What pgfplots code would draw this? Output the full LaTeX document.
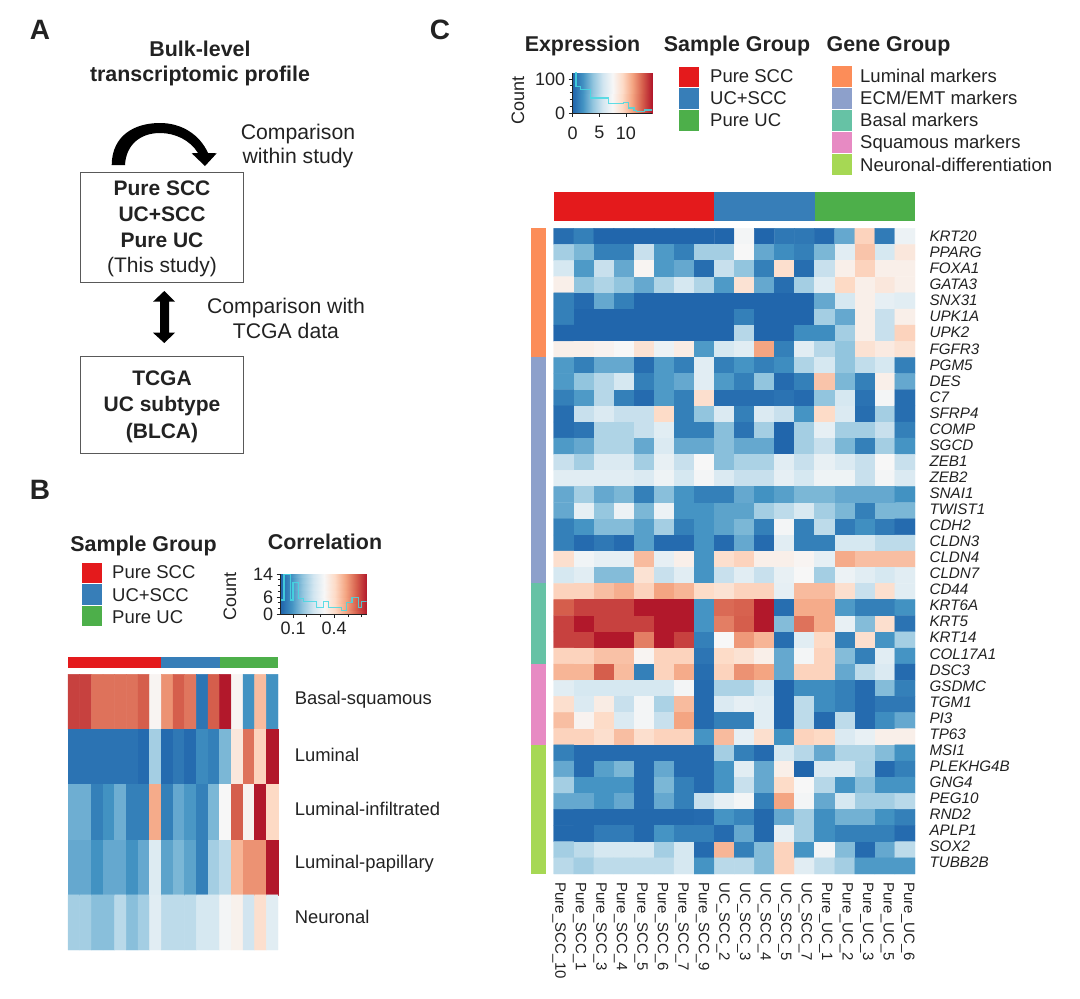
\documentclass[border=0pt]{standalone}
\usepackage{pgfplots}
\pgfplotsset{compat=1.18}
\usepackage{fontspec}
\setmainfont{Liberation Sans}
\definecolor{ink}{HTML}{222222}
\definecolor{pureSCC}{HTML}{E41A1C}
\definecolor{ucSCC}{HTML}{377EB8}
\definecolor{pureUC}{HTML}{4DAF4A}
\definecolor{luminal}{HTML}{FC8D59}
\definecolor{ecm}{HTML}{8DA0CB}
\definecolor{basal}{HTML}{66C2A5}
\definecolor{squamous}{HTML}{E78AC3}
\definecolor{neuronal}{HTML}{A6D854}
\definecolor{histline}{HTML}{45D9E3}
\newcommand{\fsz}[1]{\fontsize{#1}{#1}\selectfont}
\pgfplotsset{
  colormap={rdbu}{rgb255=(33,102,172) rgb255=(67,147,195) rgb255=(146,197,222)
    rgb255=(209,229,240) rgb255=(247,247,247) rgb255=(253,219,199)
    rgb255=(244,165,130) rgb255=(214,96,77) rgb255=(178,24,43)},
  heat/.style={scale only axis, anchor=north west, clip=false, colormap name=rdbu,
    point meta min=0, point meta max=14, y dir=reverse, axis line style={draw=none},
    tick style={draw=none}, tick align=outside, enlargelimits=false},
  key/.style={scale only axis, anchor=north west, colormap name=rdbu,
    point meta min=0, point meta max=14, axis on top,
    axis y line=left, axis x line=bottom, axis line style={-,draw=ink,line width=.6pt},
    tick style={draw=ink,line width=.6pt}, tick align=outside, major tick length=4pt, minor tick length=3pt,
    xtick pos=bottom, ytick pos=left,
    /pgf/number format/assume math mode=true,
    tick label style={font=\fsz{18},text=ink}},
}
\tikzset{
  lab/.style={anchor=base west, inner sep=0pt, font=\fsz{18.5}},
  head/.style={anchor=base, inner sep=0pt, font=\bfseries\fsz{21.4}},
  plain/.style={anchor=base, inner sep=0pt, font=\fsz{21.2}},
  boxb/.style={anchor=base, inner sep=0pt, font=\bfseries\fsz{21}},
}
\begin{document}
\begin{tikzpicture}
\path[use as bounding box] (0pt,0pt) rectangle (1080pt,-999pt);

% panel C heat map, 18 samples by 40 genes, listed gene by gene
\begin{axis}[heat, at={(553.7pt,-228.3pt)}, width=361.3pt, height=645.7pt,
    xmin=-0.5, xmax=17.5, ymin=-0.5, ymax=39.5,
    xtick={-0.236,0.787,1.809,2.832,3.855,4.878,5.9,6.923,7.946,8.968,9.991,11.014,12.037,13.059,14.082,15.105,16.127,17.15},
    ytick={0,0.995,1.989,2.984,3.978,4.973,5.967,6.962,7.956,8.951,9.945,10.94,11.934,12.929,13.923,14.918,15.912,16.907,17.901,18.896,19.89,20.885,21.879,22.874,23.868,24.863,25.857,26.852,27.846,28.841,29.835,30.83,31.824,32.819,33.813,34.808,35.802,36.797,37.791,38.786},
    yticklabel pos=right,
    xticklabels={Pure\_SCC\_10,Pure\_SCC\_1,Pure\_SCC\_3,Pure\_SCC\_4,Pure\_SCC\_5,Pure\_SCC\_6,Pure\_SCC\_7,Pure\_SCC\_9,UC\_SCC\_2,UC\_SCC\_3,UC\_SCC\_4,UC\_SCC\_5,UC\_SCC\_7,Pure\_UC\_1,Pure\_UC\_2,Pure\_UC\_3,Pure\_UC\_5,Pure\_UC\_6},
    yticklabels={KRT20,PPARG,FOXA1,GATA3,SNX31,UPK1A,UPK2,FGFR3,PGM5,DES,C7,SFRP4,COMP,SGCD,ZEB1,ZEB2,SNAI1,TWIST1,CDH2,CLDN3,CLDN4,CLDN7,CD44,KRT6A,KRT5,KRT14,COL17A1,DSC3,GSDMC,TGM1,PI3,TP63,MSI1,PLEKHG4B,GNG4,PEG10,RND2,APLP1,SOX2,TUBB2B},
    xticklabel style={rotate=-90, anchor=west, xshift=2pt, font=\fsz{15}, text=ink},
    yticklabel style={font=\fsz{15.2}\itshape, text=ink, xshift=8pt},
    major tick length=3pt]
\addplot[matrix plot*, mesh/cols=18, point meta=explicit] table[row sep=\\, header=false,
    x expr={mod(\coordindex,18)}, y expr={floor((\coordindex+0.5)/18)}, meta index=0] {
0.3\\1\\0\\0\\0\\0\\0\\0\\0\\6.8\\0\\0.7\\0.7\\0.2\\2.5\\9\\0.8\\6.5\\
4\\3\\1\\1\\5\\2\\1\\4\\4\\7\\2.5\\1.5\\1\\3\\6\\9.5\\5.5\\8\\
5.5\\2\\5\\2.5\\7.2\\2\\2.5\\0.3\\5\\3.5\\1\\8.5\\0.3\\5\\7.5\\9\\7.5\\7.5\\
7.5\\3.5\\4.3\\3.5\\2.5\\4.3\\5.5\\4.3\\2\\8.3\\2.5\\0.3\\4\\6\\8.8\\7.5\\8\\7.5\\
1\\0.2\\2.5\\1\\0\\0\\0\\0\\0\\0\\0\\0\\0\\2.5\\5.5\\7.5\\6.2\\6\\
1\\0\\0\\0\\0\\0\\0\\0\\0\\1\\0\\0\\0\\4\\2.5\\7.5\\5\\7.5\\
0\\0\\0\\0\\0\\0\\0\\0\\0\\4.5\\0\\0\\1.5\\1.5\\4\\7.5\\5\\9\\
7.5\\7.5\\7.3\\7\\8.3\\6.5\\7.7\\2\\5.5\\6\\10.5\\1\\6\\4.5\\3.5\\8.3\\7.8\\8.3\\
2\\1\\2.5\\2.5\\0.3\\2\\1\\6\\1\\1.8\\1\\1.5\\4.3\\5.5\\3.5\\4.8\\5.5\\1\\
2\\3.5\\4.5\\5.5\\1\\2\\2.5\\6\\2\\1\\3.5\\0.2\\1\\9.5\\3\\1\\7.5\\2.5\\
1\\2\\4.5\\1\\0.2\\2\\1\\8.5\\0.3\\0.3\\0.3\\0.5\\0.2\\3.5\\5.5\\0.5\\6.8\\0.3\\
0.3\\5\\5.7\\5\\5\\8.7\\1\\3.5\\5.7\\1\\5.7\\5\\1.8\\8.7\\5.7\\0.3\\4\\0.3\\
0.3\\0.6\\4.3\\4.3\\5\\6\\1\\1\\3.3\\0.5\\4\\0\\4\\6.2\\4\\4\\5\\1\\
2\\2.5\\4.3\\4.3\\2.5\\5.7\\2.5\\2.5\\3.3\\2.5\\2.5\\0\\4\\5\\3\\1\\4\\1.8\\
5\\4\\5.7\\5.7\\4\\6.3\\5\\7\\3.3\\4.2\\4.2\\6\\5\\6.3\\5.7\\5\\7\\5\\
6\\6\\6\\6\\5.7\\6.6\\5.5\\6.8\\5.7\\5\\5\\6.2\\5.5\\6.6\\6.6\\5\\6.8\\5.7\\
2.5\\4\\2.5\\3\\1\\3.3\\1.8\\1\\1\\2.5\\1.7\\2.2\\3\\3\\2.5\\2.5\\2.5\\1.7\\
2.5\\6.2\\3.6\\6.5\\3\\6.5\\1.8\\1.8\\2.3\\2.3\\4\\4.7\\5.6\\4\\3\\1\\3\\3\\
1\\1.8\\3.2\\3.2\\2.2\\4\\1\\1.8\\2.3\\3\\1\\6.8\\1\\4.7\\0.8\\1.6\\0.8\\0.2\\
1\\0.2\\0.7\\0.2\\2.2\\0.2\\0.2\\1.8\\0.2\\2.5\\0.2\\6\\1\\1\\5.5\\5.5\\4.7\\4.7\\
8.5\\6.7\\6.2\\6.2\\9.8\\6.2\\7.5\\1.8\\8.5\\9\\7.5\\7.5\\7.2\\6.2\\10.3\\9.7\\9.7\\9.7\\
5.5\\6\\3.2\\3.2\\8.3\\5\\6\\1.8\\5\\6\\5\\6.3\\7\\4\\6.5\\6\\5.5\\6\\
9\\9\\9.7\\10.2\\9\\10.5\\10\\8.7\\8.3\\9\\9\\6.2\\9.8\\9.8\\8.5\\5\\8.5\\6\\
12.3\\13\\13\\13\\14\\14\\14\\1.8\\12\\12.2\\14\\0.3\\10.3\\10.3\\2\\1\\1\\1.7\\
13\\14\\13\\13\\13\\14\\14\\1.8\\11.5\\12.3\\14\\3.2\\11.8\\10.3\\6.3\\3.2\\8.5\\0.5\\
13\\13\\14\\14\\11.5\\14\\13\\1\\7\\10.8\\10\\0.3\\6\\8.8\\1\\8.5\\1.8\\4\\
9\\9\\9.6\\9.6\\7.2\\9\\9\\0.6\\8.7\\8.3\\7.5\\2.5\\6.8\\9\\3.2\\1\\6\\1.8\\
10\\10\\12.3\\9.8\\1\\9\\10.3\\0.3\\9\\11\\10.5\\2.5\\9\\9\\2.5\\4.7\\5.7\\0.2\\
6\\5.5\\5.5\\5.5\\5.5\\5.5\\6.8\\0.2\\4.2\\4.2\\5.5\\0\\1.5\\1.5\\1\\0.2\\3.2\\1\\
8.5\\5.7\\7.7\\5\\6.8\\4.2\\9.8\\0.2\\5.7\\6.2\\6\\0\\4.7\\1.5\\1\\0.2\\0.7\\0.7\\
9.7\\7.3\\8.7\\5.7\\6.8\\5\\10.5\\0.2\\1\\1\\6\\0\\4.7\\0.2\\4.7\\0.2\\1.5\\2.5\\
9\\9\\8.5\\9.7\\8.5\\9\\9\\1.8\\9.8\\6.2\\8.5\\1.7\\9\\8.8\\5.7\\6.3\\7.5\\7.5\\
1\\0.2\\0.2\\0.2\\0.2\\0.2\\0.2\\0.2\\4\\1\\0.2\\5.5\\4.5\\2.5\\4.3\\4.3\\3.2\\1.7\\
2.5\\0.2\\2.2\\3\\0.2\\2.5\\0.2\\0.2\\1.8\\6\\2.5\\7.5\\0\\5.7\\5.7\\4.2\\0.2\\1\\
4\\1.8\\1.8\\1.8\\0.2\\3\\1\\0.2\\1.8\\5\\2.5\\8.7\\7\\4.5\\1.8\\3.3\\1.8\\1.8\\
2.5\\2.5\\1.8\\2.5\\0.2\\2.5\\1\\5\\6.2\\6.8\\1\\10.5\\6.8\\2.5\\5.5\\4\\4\\4.6\\
0.1\\0.1\\0.1\\0.1\\0.1\\0.1\\0.1\\0.2\\1.8\\1.2\\0.1\\2.5\\4\\1.6\\2.8\\2.8\\1.7\\1\\
0.1\\0.1\\0.8\\0.8\\0.1\\1.8\\1\\1\\0.2\\2.5\\0.1\\6.2\\4\\1.6\\1\\1\\1\\0.2\\
4\\4.7\\5.5\\5.5\\5.5\\4\\5.5\\0.2\\10\\1\\3.2\\9\\1.8\\6.8\\3.2\\0.2\\2.5\\4.7\\
4.6\\4\\4.7\\4.7\\4.7\\4.7\\5.5\\1.8\\4.6\\4.6\\3.2\\9\\6\\4.8\\4\\2\\2\\2\\
};
% sample and gene group strips
\fill[pureSCC] (axis cs:-0.5,-2.73) rectangle (axis cs:7.5,-0.93);
\fill[ucSCC] (axis cs:7.5,-2.73) rectangle (axis cs:12.5,-0.93);
\fill[pureUC] (axis cs:12.5,-2.73) rectangle (axis cs:17.5,-0.93);
\fill[luminal] (axis cs:-1.63,-0.5) rectangle (axis cs:-0.87,7.5);
\fill[ecm] (axis cs:-1.63,7.5) rectangle (axis cs:-0.87,21.5);
\fill[basal] (axis cs:-1.63,21.5) rectangle (axis cs:-0.87,26.5);
\fill[squamous] (axis cs:-1.63,26.5) rectangle (axis cs:-0.87,31.5);
\fill[neuronal] (axis cs:-1.63,31.5) rectangle (axis cs:-0.87,39.5);
\end{axis}

% panel B heat map, 18 samples by 5 signatures
\begin{axis}[heat, at={(68pt,-674.3pt)}, width=210pt, height=275.7pt,
    xmin=-0.5, xmax=17.5, ymin=-0.5, ymax=4.5, xtick=\empty,
    ytick={-0.034,0.964,1.943,2.94,3.9}, yticklabel pos=right,
    yticklabels={Basal-squamous,Luminal,Luminal-infiltrated,Luminal-papillary,Neuronal},
    yticklabel style={font=\fsz{18.4}, text=ink, xshift=9pt}]
\addplot[matrix plot*, mesh/cols=18, point meta=explicit] table[row sep=\\, header=false,
    x expr={mod(\coordindex,18)}, y expr={floor((\coordindex+0.5)/18)}, meta index=0] {
13\\13\\11.8\\11.8\\11.8\\11.8\\12.3\\7.2\\11\\12.3\\11.7\\0.6\\12.3\\14\\7.2\\1.7\\9.8\\1.7\\
0.5\\0.5\\0.5\\0.5\\0.5\\0.5\\0.2\\4\\0.2\\0.7\\0.2\\1.4\\1\\3\\8\\11.8\\9\\14\\
2.7\\2.7\\1\\1.7\\2.7\\1\\1\\10.3\\1\\2.5\\1.9\\1\\3\\7\\12.3\\7.3\\14\\8.8\\
2.5\\2.5\\1.7\\2.5\\2.5\\1.7\\2.5\\5.8\\2.3\\3\\2.3\\1\\4\\4.7\\10\\11\\11\\14\\
4\\4\\3.3\\3.3\\4.6\\3.3\\4\\6\\4.7\\4.7\\4.7\\5.5\\5.5\\6.8\\7.4\\5.3\\8.5\\6\\
};
\fill[pureSCC] (axis cs:-0.5,-0.814) rectangle (axis cs:7.5,-0.614);
\fill[ucSCC] (axis cs:7.5,-0.814) rectangle (axis cs:12.5,-0.614);
\fill[pureUC] (axis cs:12.5,-0.814) rectangle (axis cs:17.5,-0.614);
\end{axis}

% colour key with histogram, expression
\begin{axis}[key, at={(572.7pt,-72.7pt)}, width=79.3pt, height=40.3pt,
    xmin=0, xmax=14.9, ymin=0, ymax=118,
    xtick={0,5,10}, ytick={0,100}, minor ytick={20,40,60,80},
    xticklabel style={yshift=-6pt},
    ylabel={Count},
    every axis y label/.style={at={(axis description cs:0,0.32)},rotate=90,anchor=center,yshift=54.7pt,font=\fsz{18},text=ink}]
\addplot[surf, shader=interp, mesh/cols=2, point meta=explicit] coordinates {
  (0,0) [0] (14.9,0) [14]
  (0,118) [0] (14.9,118) [14]
};
\addplot[const plot, histline, line width=1.3pt, opacity=.85] coordinates {
  (0,160) (0.6,78) (1.5,68) (3.3,44) (6.7,27) (9.5,31) (10.5,15) (11.5,8) (12,5) (13.5,9) (14.9,13)
};
\end{axis}

% colour key with histogram, correlation
\begin{axis}[key, at={(280.7pt,-574pt)}, width=86pt, height=40pt,
    xmin=0.01, xmax=0.638, ymin=0, ymax=14,
    xtick={0.1,0.4}, minor xtick={0.2,0.3,0.5,0.6}, ytick={0,6,14}, minor ytick={2,4,8,10,12},
    /pgf/number format/fixed, /pgf/number format/precision=1,
    ylabel={Count},
    every axis y label/.style={at={(axis description cs:0,0.45)},rotate=90,anchor=center,yshift=50.7pt,font=\fsz{18},text=ink}]
\addplot[surf, shader=interp, mesh/cols=2, point meta=explicit] coordinates {
  (0.01,0) [0] (0.638,0) [14]
  (0.01,14) [0] (0.638,14) [14]
};
\addplot[const plot, histline, line width=1.3pt, opacity=.85] coordinates {
  (0.01,4.9) (0.034,14) (0.083,4.9) (0.10,11) (0.14,5.5) (0.175,4.3) (0.27,2.2) (0.32,4.3)
  (0.358,2.2) (0.455,1.2) (0.49,4) (0.53,5.8) (0.577,2.3) (0.60,4.3) (0.638,4.3)
};
\end{axis}

\begin{scope}[x=1pt,y=-1pt,text=ink]
% panel letters
\node[font=\bfseries\fsz{28}] at (40,30) {A};
\node[font=\bfseries\fsz{28}] at (40,490) {B};
\node[font=\bfseries\fsz{28}] at (440,30) {C};

% panel A
\node[head] at (200,56.5) {Bulk-level};
\node[head] at (200,81) {transcriptomic profile};
\fill[black] (111.7,165) .. controls (112,135) and (135,123) .. (160,123)
  .. controls (182,123) and (200,135) .. (208,153) -- (216.7,153.3) -- (205,166) -- (191.7,153.3)
  -- (198,153) .. controls (190,140) and (175,133) .. (160,133)
  .. controls (140,133) and (126,145) .. (125,165) -- cycle;
\draw[draw=black!65,line width=1pt] (80,172.3) rectangle (243.3,282.3);
\draw[draw=black!65,line width=1pt] (80,356) rectangle (243.3,453);
\node[boxb] at (162,195.5) {Pure SCC};
\node[boxb] at (162,221) {UC+SCC};
\node[boxb] at (162,247) {Pure UC};
\node[anchor=base,inner sep=0pt,font=\fsz{21}] at (162,272) {(This study)};
\node[plain] at (298,139.5) {Comparison};
\node[plain] at (298,163.5) {within study};
\node[plain] at (286,313) {Comparison with};
\node[plain] at (286,338) {TCGA data};
\fill[black] (164.3,291) -- (175,301.7) -- (169,301.7) -- (169,332.7) -- (175,332.7) -- (164.3,343)
  -- (153,332.7) -- (160,332.7) -- (160,301.7) -- (153,301.7) -- cycle;
\node[boxb] at (162,385) {TCGA};
\node[boxb] at (162,411) {UC subtype};
\node[boxb] at (162,438) {(BLCA)};

% panel B legend
\node[head] at (143.5,551.5) {Sample Group};
\fill[pureSCC] (82,563) rectangle (102,583);
\fill[ucSCC] (82,584) rectangle (102,605);
\fill[pureUC] (82,606) rectangle (102,626);
\node[lab] at (112,578.5) {Pure SCC};
\node[lab] at (112,601.5) {UC+SCC};
\node[lab] at (112,623.5) {Pure UC};
\node[head] at (325,549.5) {Correlation};

% panel C legends
\node[head] at (582.5,51.5) {Expression};
\node[head] at (737,51.5) {Sample Group};
\node[head] at (888.5,51.5) {Gene Group};
\fill[pureSCC] (679,66.7) rectangle (699,87.2);
\fill[ucSCC] (679,88.2) rectangle (699,108.7);
\fill[pureUC] (679,109.7) rectangle (699,130.7);
\node[lab] at (710,82.5) {Pure SCC};
\node[lab] at (710,104.5) {UC+SCC};
\node[lab] at (710,126.5) {Pure UC};
\fill[luminal] (832,66) rectangle (852,87);
\fill[ecm] (832,88) rectangle (852,109);
\fill[basal] (832,110) rectangle (852,131);
\fill[squamous] (832,132) rectangle (852,153);
\fill[neuronal] (832,154) rectangle (852,175);
\node[lab] at (860,82.5) {Luminal markers};
\node[lab] at (860,104.5) {ECM/EMT markers};
\node[lab] at (860,126.5) {Basal markers};
\node[lab] at (860,148.5) {Squamous markers};
\node[lab] at (860,171.5) {Neuronal-differentiation};
\end{scope}
\end{tikzpicture}
\end{document}
